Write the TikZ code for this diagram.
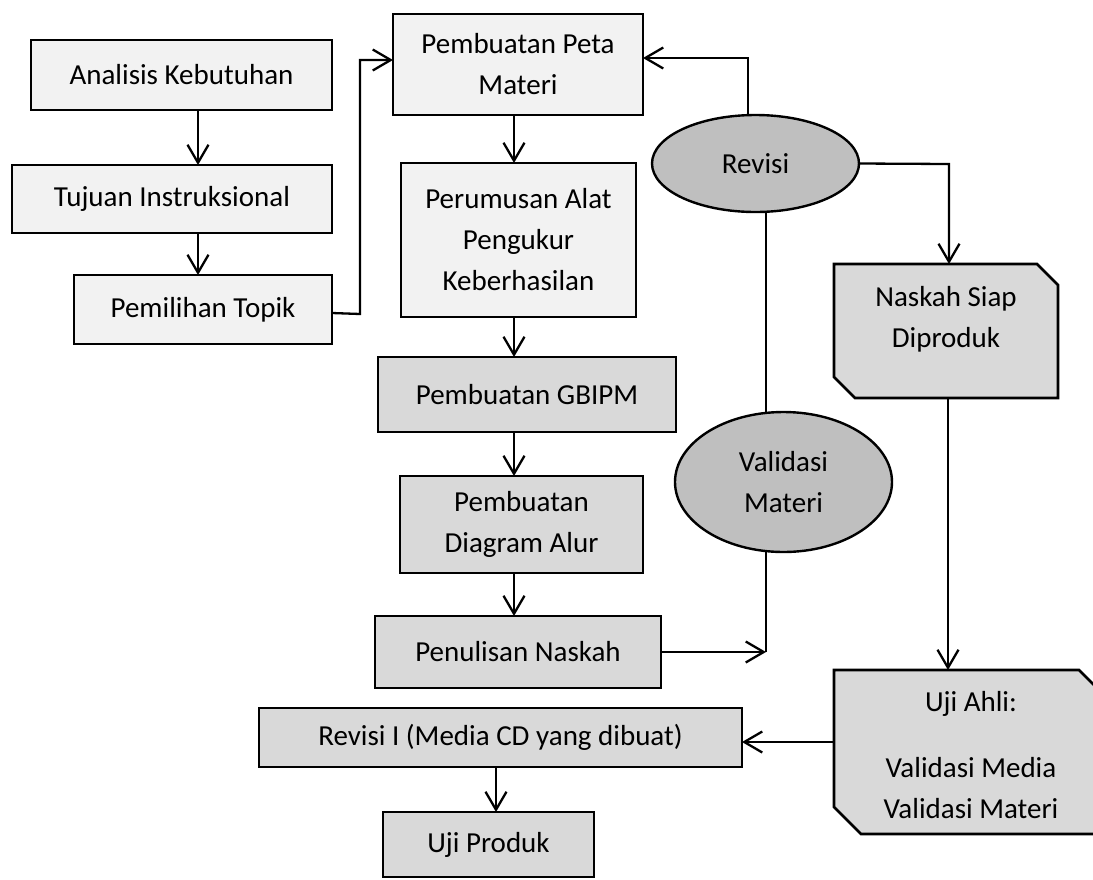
\documentclass[tikz,border=0pt]{standalone}
\usepackage{fontspec}
\setmainfont{Carlito}
\usetikzlibrary{arrows.meta,shapes.geometric,calc}
\definecolor{boxlight}{HTML}{F2F2F2}
\definecolor{boxdark}{HTML}{D9D9D9}
\definecolor{ovalfill}{HTML}{BFBFBF}
\tikzset{
  basebox/.style={draw=black, line width=2.8pt, inner sep=0pt, outer sep=0pt, align=center,
    font=\fontsize{29}{41}\selectfont},
  lightbox/.style={basebox, rectangle, fill=boxlight},
  darkbox/.style={basebox, rectangle, fill=boxdark},
  oval/.style={basebox, ellipse, fill=ovalfill, line width=2.4pt},
  holder/.style={inner sep=0pt, outer sep=0pt},
  cardshape/.style={draw=black, line width=2.8pt, fill=boxdark, line join=miter},
  txt/.style={inner sep=0pt, align=center, font=\fontsize{29}{41}\selectfont},
  conn/.style={draw=black, line width=2.3pt},
  arr/.style={conn, -{Straight Barb[length=18pt,width=21pt]}},
}
\begin{document}
\begin{tikzpicture}[x=1pt,y=-1pt]
\useasboundingbox (0,0) rectangle (1093,879);
\clip (0,0) rectangle (1093,879);

% left column
\node[lightbox, minimum width=301pt, minimum height=70pt] (ana) at (181.5,75) {Analisis Kebutuhan};
\node[lightbox, minimum width=320pt, minimum height=68pt] (tuj) at (172,199) {Tujuan Instruksional};
\node[lightbox, minimum width=258pt, minimum height=69pt] (pem) at (203,309.5) {Pemilihan Topik};

% middle column
\node[lightbox, minimum width=250pt, minimum height=101pt] (peta) at (518,64.5) {Pembuatan Peta\\Materi};
\node[lightbox, minimum width=235pt, minimum height=154pt] (per) at (518.5,240) {Perumusan Alat\\Pengukur\\Keberhasilan};
\node[darkbox, minimum width=298pt, minimum height=75pt] (gbi) at (527,394.5) {Pembuatan GBIPM};
\node[darkbox, minimum width=243pt, minimum height=97pt] (dia) at (521.5,524.5) {Pembuatan\\Diagram Alur};
\node[darkbox, minimum width=286pt, minimum height=72pt] (pen) at (518,652) {Penulisan Naskah};
\node[darkbox, minimum width=483pt, minimum height=59pt] (rev1) at (500.5,737.5) {Revisi I (Media CD yang dibuat)};
\node[darkbox, minimum width=211pt, minimum height=65pt] (uji) at (488.5,844.5) {Uji Produk};

% ovals
\node[oval, minimum width=207pt, minimum height=97pt] (revisi) at (755.5,163.5) {Revisi};
\node[oval, minimum width=217pt, minimum height=140pt] (val) at (783.5,482) {Validasi\\Materi};

% card shapes
\node[holder, minimum width=224pt, minimum height=134pt] (naskah) at (946,331) {};
\draw[cardshape] (naskah.north west) -- ([xshift=-21pt]naskah.north east)
  -- ([yshift=-21pt]naskah.north east) -- (naskah.south east)
  -- ([xshift=21pt]naskah.south west) -- ([yshift=21pt]naskah.south west) -- cycle;
\node[txt] (naskahtxt) at (946,319) {Naskah Siap\\Diproduk};

\node[holder, minimum width=272pt, minimum height=164pt] (ahli) at (970,752) {};
\draw[cardshape] (ahli.north west) -- ([xshift=-27pt]ahli.north east)
  -- ([yshift=-27pt]ahli.north east) -- (ahli.south east)
  -- ([xshift=27pt]ahli.south west) -- ([yshift=27pt]ahli.south west) -- cycle;
\node[txt] (ahlitxt) at (971,755) {Uji Ahli:\\[25pt]Validasi Media\\Validasi Materi};

% helper coordinates
\coordinate (xL) at (198,0);
\coordinate (xM) at (514,0);
\coordinate (xV) at (766,0);
\coordinate (xN) at (948,0);
\coordinate (xB) at (496,0);
\coordinate (j1) at (360,314);
\coordinate (j2) at (360,60);
\coordinate (j3) at (748,58);
\coordinate (j4) at (949,164);
\coordinate (j5) at (766,652);
\coordinate (j6) at (0,742);

% connectors
\draw[arr] (ana.south -| xL) -- (tuj.north -| xL);
\draw[arr] (tuj.south -| xL) -- (pem.north -| xL);
\draw[arr] ([yshift=-3.5pt]pem.east) -- (j1) -- (j2) -- (j2 -| peta.west);
\draw[arr] (peta.south -| xM) -- (per.north -| xM);
\draw[arr] (per.south -| xM) -- (gbi.north -| xM);
\draw[arr] (gbi.south -| xM) -- (dia.north -| xM);
\draw[arr] (dia.south -| xM) -- (pen.north -| xM);
\draw[arr] (revisi.north -| j3) -- (j3) -- (j3 -| peta.east);
\draw[arr] (revisi.east) -- (j4) -- (j4 |- naskah.north);
\draw[conn] (revisi.south -| xV) -- (val.north -| xV);
\draw[conn] (val.south -| xV) -- (j5);
\draw[arr] (pen.east) -- (j5);
\draw[arr] (naskah.south -| xN) -- (ahli.north -| xN);
\draw[arr] (ahli.west |- j6) -- (rev1.east |- j6);
\draw[arr] (rev1.south -| xB) -- (uji.north -| xB);
\end{tikzpicture}
\end{document}
